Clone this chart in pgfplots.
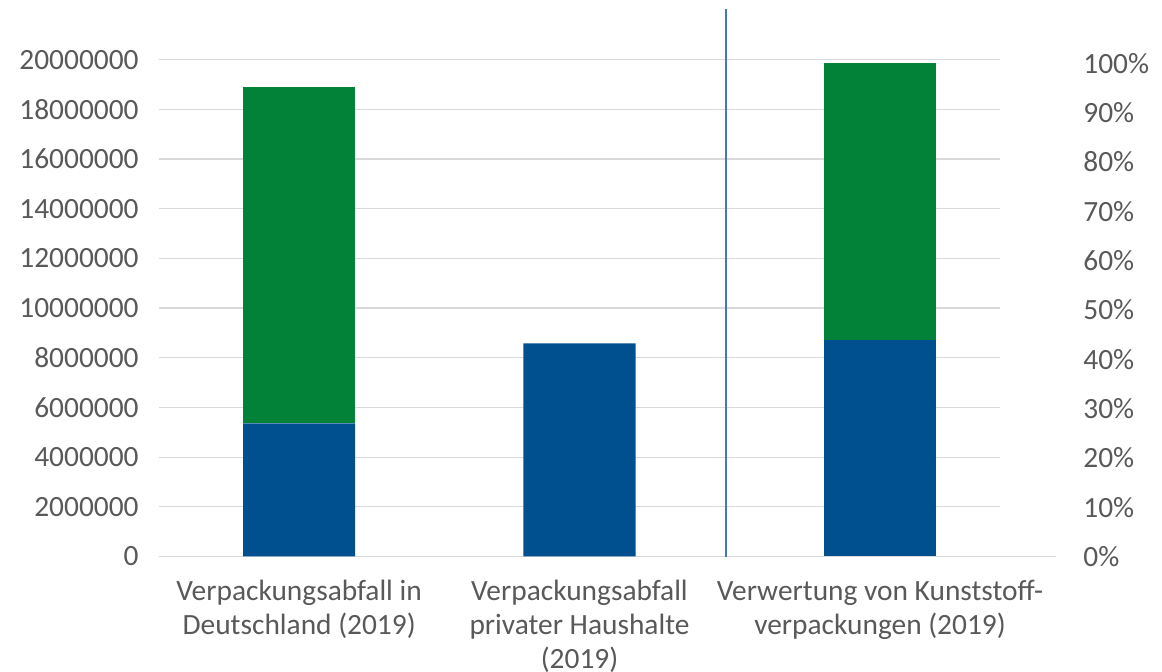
\documentclass[border=0pt]{standalone}
\usepackage{fontspec}
\setmainfont{Carlito}
\usepackage{pgfplots}
\pgfplotsset{compat=1.18}
\definecolor{txt}{HTML}{595959}
\definecolor{gridc}{HTML}{D9D9D9}
\definecolor{bblue}{HTML}{00508F}
\definecolor{bgreen}{HTML}{028138}
\definecolor{sepc}{HTML}{4472C4}

\begin{document}
\begin{tikzpicture}
\pgfplotsset{
 common/.style={
  scale only axis, width=420.5pt, height=273.25pt,
  xmin=0, xmax=3,
  axis line style={draw=none},
  tick style={draw=none},
  ticklabel style={font=\fontsize{14.7}{17}\selectfont, text=txt},
  /pgf/number format/assume math mode=true,
  ybar stacked, bar width=0.4,
 }
}
\begin{axis}[common,
  ymin=0, ymax=22000000,
  ytick={0,2000000,4000000,6000000,8000000,10000000,12000000,14000000,16000000,18000000,20000000},
  scaled y ticks=false,
  yticklabel style={/pgf/number format/fixed, /pgf/number format/1000 sep={}, inner sep=0pt, anchor=east, xshift=-10pt},
  ymajorgrids, major grid style={gridc, line width=0.6pt},
  xtick={0.5,1.5,2.572},
  xticklabels={{Verpackungsabfall in\\Deutschland (2019)},{Verpackungsabfall\\privater Haushalte\\(2019)},{Verwertung von Kunststoff-\\verpackungen (2019)}},
  xticklabel style={align=center, inner sep=0pt, anchor=north, yshift=-11.75pt},
]
\addplot[fill=bblue, draw=none] coordinates {(0.5,5360000) (1.5,8580000)};
\addplot[fill=bgreen, draw=none] coordinates {(0.5,13540000) (1.5,0)};
\coordinate (O) at (rel axis cs:0,0);
\end{axis}
\begin{axis}[common,
  clip=false,
  ymin=0, ymax=110.8,
  ytick={0,10,20,30,40,50,60,70,80,90,100},
  yticklabel pos=right,
  yticklabel={\pgfmathprintnumber{\tick}\%},
  yticklabel style={inner sep=0pt, anchor=west, xshift=41.5pt},
  xtick=\empty,
]
\addplot[fill=bblue, draw=none] coordinates {(2.572,43.8)};
\addplot[fill=bgreen, draw=none] coordinates {(2.572,56.2)};
\draw[sepc, line width=0.6pt] (axis cs:2.0226,-0.2) -- (axis cs:2.0226,110.9);
\draw[gridc, line width=0.6pt] (rel axis cs:1,0) -- ++(28pt,0);
\end{axis}
\pgfresetboundingbox
\path[use as bounding box] ([shift={(-79.5pt,-57.75pt)}]O) rectangle ([shift={(501.5pt,278.25pt)}]O);
\end{tikzpicture}
\end{document}
